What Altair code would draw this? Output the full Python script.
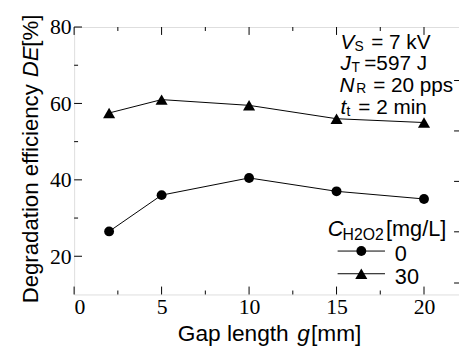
import altair as alt
import pandas as pd

gap = [2, 5, 10, 15, 20]
de_0 = [26.5, 36.0, 40.5, 37.0, 35.0]
de_30 = [57.5, 61.0, 59.5, 56.0, 55.0]
series = ["0", "30"]

x_major = [0, 5, 10, 15, 20]
x_minor = [2.5, 7.5, 12.5, 17.5]
y_major = [20, 40, 60, 80]
y_minor = [30, 50, 70]
y_right = [66.0, 52.8, 39.6, 26.4, 13.0]

W, H = 390, 271
SANS = "Liberation Sans"
SERIF = "Liberation Serif"

df = pd.DataFrame({
    "gap": gap * 2,
    "de": de_0 + de_30,
    "s": [series[0]] * len(gap) + [series[1]] * len(gap),
})

xs = alt.Scale(domain=[0, 22], nice=False, zero=False)
ys = alt.Scale(domain=[10, 80], nice=False, zero=False)
shape_scale = alt.Scale(domain=series, range=["circle", "triangle-up"])
size_scale = alt.Scale(domain=series, range=[100, 150])

base = alt.Chart(df)
lines = base.mark_line(color="black", strokeWidth=1).encode(
    x=alt.X("gap:Q", scale=xs,
            axis=alt.Axis(values=x_major, ticks=False, domain=False, grid=False, title=None,
                          labelFont=SERIF, labelFontSize=22, labelColor="black", labelPadding=2)),
    y=alt.Y("de:Q", scale=ys,
            axis=alt.Axis(values=y_major, ticks=False, domain=False, grid=False, title=None,
                          labelFont=SERIF, labelFontSize=22, labelColor="black", labelPadding=3)),
    detail="s:N",
)
points = base.mark_point(filled=True, color="black", opacity=1).encode(
    x=alt.X("gap:Q", scale=xs),
    y=alt.Y("de:Q", scale=ys),
    shape=alt.Shape("s:N", scale=shape_scale, legend=None),
    size=alt.Size("s:N", scale=size_scale, legend=None),
)


def xticks(vals, y1, y2):
    return alt.Chart(pd.DataFrame({"v": vals})).mark_rule(color="black", strokeWidth=1).encode(
        x=alt.X("v:Q", scale=xs), y=alt.value(y1), y2=alt.value(y2))


def yticks(vals, x1, x2):
    return alt.Chart(pd.DataFrame({"v": vals})).mark_rule(color="black", strokeWidth=1).encode(
        y=alt.Y("v:Q", scale=ys), x=alt.value(x1), x2=alt.value(x2))


ticks = [
    xticks(x_major, H, H - 8), xticks(x_minor, H, H - 4),
    xticks(x_major, 0, 8), xticks(x_minor, 0, 4),
    yticks(y_major, 0, 8), yticks(y_minor, 0, 4),
    yticks(y_right, W, W - 5),
]


def txt(s, px, py, size=21, style="normal", font=SANS, angle=0):
    return alt.Chart(pd.DataFrame({"t": [s]})).mark_text(
        align="left", baseline="alphabetic", font=font, fontSize=size, fontStyle=style,
        color="black", angle=angle,
    ).encode(x=alt.value(px - 75), y=alt.value(py - 25), text="t:N")


L1, L2, L3, L4 = 47.0, 68.8, 90.4, 113.0
SUB = 2.0
texts = [
    # conditions
    txt("V", 345, L1, style="italic"), txt("S", 359, L1 + SUB, size=14), txt("= 7 kV", 376, L1),
    txt("J", 345, L2, style="italic"), txt("T", 356, L2 + SUB, size=14), txt("=597 J", 369, L2),
    txt("N", 344, L3, style="italic"), txt("R", 361, L3 + 1.2, size=14), txt("= 20 pps", 378, L3),
    txt("t", 345, L4, style="italic"), txt("t", 351, L4 + SUB, size=14), txt("= 2 min", 363, L4),
    # legend
    txt("C", 332, 237, size=22, style="italic"), txt("H2O2", 347, 241, size=16),
    txt("[mg/L]", 391, 237, size=22),
    txt("0", 400, 262, size=22), txt("30", 400, 285, size=22),
    # x title
    txt("Gap length", 180, 343, size=23), txt("g", 301, 343, size=23, style="italic"),
    txt("[mm]", 315, 343, size=23),
    # y title
    txt("Degradation efficiency ", 38, 305, size=22.5, angle=270),
    txt("DE", 38, 76, size=22.5, style="italic", angle=270),
    txt("[%]", 38, 45, size=22.5, angle=270),
]

leg_df = pd.DataFrame({"s": series, "yy": [252 - 25, 275 - 25]})
leg_lines = alt.Chart(leg_df).mark_rule(color="black", strokeWidth=1).encode(
    x=alt.value(342 - 75), x2=alt.value(390 - 75), y=alt.Y("yy:Q", scale=None))
leg_pts = alt.Chart(leg_df).mark_point(filled=True, color="black", opacity=1).encode(
    x=alt.value(366 - 75), y=alt.Y("yy:Q", scale=None),
    shape=alt.Shape("s:N", scale=shape_scale, legend=None),
    size=alt.Size("s:N", scale=size_scale, legend=None),
)

chart = alt.layer(lines, points, *ticks, leg_lines, leg_pts, *texts).properties(
    width=W, height=H,
    autosize=alt.AutoSizeParams(type="none"),
    padding={"left": 67, "top": 17, "right": 0, "bottom": 55},
).configure_view(stroke="black", strokeWidth=1.5).configure(background="white")

chart.save("out.html", embed_options={"renderer": "svg", "actions": False})
